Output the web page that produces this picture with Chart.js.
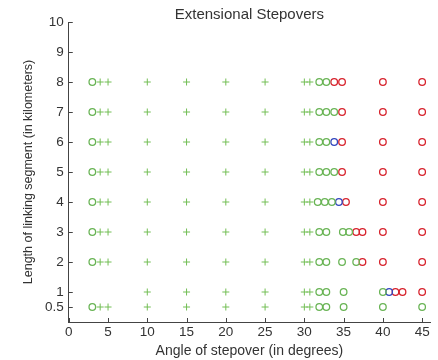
<!DOCTYPE html>
<html>
<head>
<meta charset="utf-8">
<script src="https://cdn.jsdelivr.net/npm/chart.js@4"></script>
<style>
  body { margin: 0; background: #fff; }
  #wrap { width: 438px; height: 360px; }
</style>
</head>
<body>
<div id="wrap"><canvas id="step-chart"></canvas></div>
<script>
// Length of linking segment for each row of markers (km)
var rowLengths = [8, 7, 6, 5, 4, 3, 2, 1, 0.5];

// Stepover angles (degrees) per row, one list for each marker kind
var plusAngles = [
    [4, 5, 10, 15, 20, 25, 30, 30.7],   // 8
    [4, 5, 10, 15, 20, 25, 30, 30.7],   // 7
    [4, 5, 10, 15, 20, 25, 30, 30.7],   // 6
    [4, 5, 10, 15, 20, 25, 30, 30.7],   // 5
    [4, 5, 10, 15, 20, 25, 30, 30.7],   // 4
    [4, 5, 10, 15, 20, 25, 30, 30.7],   // 3
    [4, 5, 10, 15, 20, 25, 30, 30.7],   // 2
    [10, 15, 20, 25, 30, 30.7],         // 1
    [4, 5, 10, 15, 20, 25, 30, 30.7]    // 0.5
];
var greenCircleAngles = [
    [3, 31.9, 32.8],
    [3, 31.9, 32.8, 33.8],
    [3, 31.9, 32.8],
    [3, 31.9, 32.8, 33.8],
    [3, 31.7, 32.6, 33.5],
    [3, 31.9, 32.8, 34.9, 35.7],
    [3, 31.9, 32.8, 34.8, 36.6],
    [31.9, 32.8, 35, 40],
    [3, 31.9, 32.8, 35, 40, 45]
];
var blueCircleAngles = [
    [], [], [33.8], [], [34.4], [], [], [40.8], []
];
var redCircleAngles = [
    [33.8, 34.8, 40, 45],
    [34.8, 40, 45],
    [34.8, 40, 45],
    [34.8, 40, 45],
    [35.3, 40, 45],
    [36.6, 37.4, 40, 45],
    [37.4, 40, 45],
    [41.6, 42.5, 45],
    []
];

var xTicks = [0, 5, 10, 15, 20, 25, 30, 35, 40, 45];
var yTicks = [0.5, 1, 2, 3, 4, 5, 6, 7, 8, 9, 10];

// turn the per-row angle lists into {x, y} points
function toPoints(angleRows) {
    var pts = [];
    angleRows.forEach(function (angles, i) {
        angles.forEach(function (a) {
            pts.push({ x: a, y: rowLengths[i] });
        });
    });
    return pts;
}

// MATLAB style inward tick marks
var inwardTicks = {
    id: 'inwardTicks',
    afterDraw: function (chart) {
        var c = chart.ctx, xs = chart.scales.x, ys = chart.scales.y;
        var area = chart.chartArea;
        c.save();
        c.strokeStyle = '#444';
        c.lineWidth = 1;
        c.beginPath();
        xTicks.forEach(function (v) {
            var px = Math.round(xs.getPixelForValue(v)) + 0.5;
            c.moveTo(px, area.bottom);
            c.lineTo(px, area.bottom - 4);
        });
        yTicks.forEach(function (v) {
            var py = Math.round(ys.getPixelForValue(v)) + 0.5;
            c.moveTo(area.left, py);
            c.lineTo(area.left + 4, py);
        });
        c.stroke();
        c.restore();
    }
};

Chart.defaults.font.family = '"Liberation Sans", Arial, sans-serif';
Chart.defaults.color = '#333';

var ctx = document.getElementById('step-chart').getContext('2d');
var chart = new Chart(ctx, {
    type: 'scatter',
    data: {
        datasets: [
            {
                label: 'plus',
                data: toPoints(plusAngles),
                pointStyle: 'cross',
                pointRadius: 3.5,
                borderWidth: 1,
                borderColor: 'rgb(115,190,85)'
            },
            {
                label: 'green',
                data: toPoints(greenCircleAngles),
                pointStyle: 'circle',
                pointRadius: 3.3,
                borderWidth: 1.3,
                borderColor: 'rgb(105,180,85)',
                backgroundColor: 'transparent'
            },
            {
                label: 'blue',
                data: toPoints(blueCircleAngles),
                pointStyle: 'circle',
                pointRadius: 3.3,
                borderWidth: 1.3,
                borderColor: 'rgb(50,70,190)',
                backgroundColor: 'transparent'
            },
            {
                label: 'red',
                data: toPoints(redCircleAngles),
                pointStyle: 'circle',
                pointRadius: 3.3,
                borderWidth: 1.3,
                borderColor: 'rgb(215,35,45)',
                backgroundColor: 'transparent'
            }
        ]
    },
    options: {
        responsive: true,
        maintainAspectRatio: false,
        animation: false,
        layout: { padding: { left: 21, right: 8, top: 0, bottom: 0 } },
        plugins: {
            legend: { display: false },
            tooltip: { enabled: false },
            title: {
                display: true,
                text: 'Extensional Stepovers',
                fullSize: false,
                font: { size: 15, weight: 'normal', lineHeight: 1 },
                padding: { top: 7, bottom: 0 }
            }
        },
        scales: {
            x: {
                type: 'linear',
                min: 0,
                max: 46,
                afterBuildTicks: function (axis) {
                    axis.ticks = xTicks.map(function (v) { return { value: v }; });
                },
                grid: { display: false, drawTicks: false },
                border: { display: true, color: '#444' },
                ticks: { font: { size: 13.5 }, padding: 2, maxRotation: 0 },
                title: {
                    display: true,
                    text: 'Angle of stepover (in degrees)',
                    font: { size: 14 },
                    padding: { top: 1, bottom: 0 }
                }
            },
            y: {
                type: 'linear',
                min: 0,
                max: 10,
                afterBuildTicks: function (axis) {
                    axis.ticks = yTicks.map(function (v) { return { value: v }; });
                },
                grid: { display: false, drawTicks: false },
                border: { display: true, color: '#444' },
                ticks: { font: { size: 13.5 }, padding: 5 },
                title: {
                    display: true,
                    text: 'Length of linking segment (in kilometers)',
                    font: { size: 12.5 },
                    padding: { top: 0, bottom: 4 }
                }
            }
        }
    },
    plugins: [inwardTicks]
});
</script>
</body>
</html>
